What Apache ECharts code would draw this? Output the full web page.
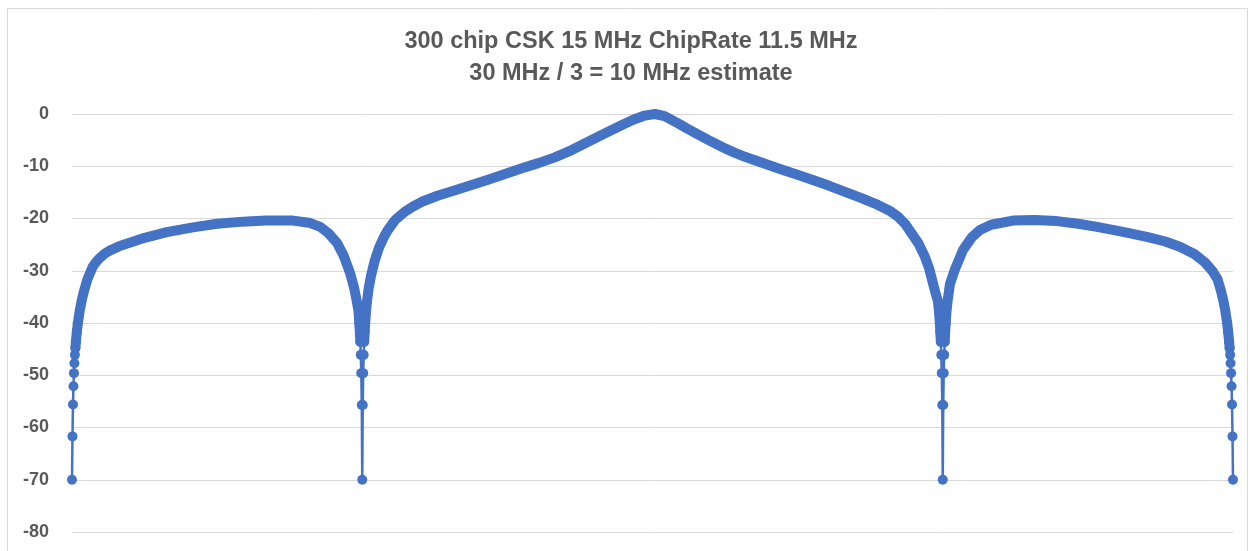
<!DOCTYPE html>
<html>
<head>
<meta charset="utf-8">
<script src="https://cdn.jsdelivr.net/npm/echarts@6/dist/echarts.min.js"></script>
<style>
  html, body { margin: 0; padding: 0; background: #ffffff; }
  #chart { width: 1252px; height: 551px; }
</style>
</head>
<body>
<div id="chart"></div>
<script>
// ---- data ----
const titleLines = ["300 chip CSK 15 MHz ChipRate 11.5 MHz", "30 MHz / 3 = 10 MHz estimate"];
const yMin = -80, yMax = 0, yStep = 10;
const sampleCount = 2400;

// [sample index, dB]
const leftSidelobe = [
  [0,-70],[1,-61.7],[2,-55.6],[3,-52.1],[4,-49.6],[5,-47.7],[6,-46.1],[7,-44.8],[8,-43.6],
  [10,-41.7],[12,-40.1],[16,-37.6],[20,-35.7],[25,-33.8],[32,-31.6],[43,-29.2],[50,-28.3],
  [58,-27.5],[68,-26.7],[79,-26.1],[100,-25.2],[127,-24.4],[150,-23.7],[196,-22.6],
  [250,-21.7],[300,-21.0],[353,-20.6],[400,-20.4],[457,-20.4],[490,-20.8],[513,-21.6],
  [530,-22.8],[548,-24.7],[562,-27.2],[575,-30.5],[583,-33.2],[588,-35.5],[592,-37.6],
  [593,-38.8],[594,-40.1],[595,-41.7],[596,-43.6],[597,-46.1],[598,-49.6],[599,-55.7],[600,-70]
];
const mainLobe = [
  [601,-55.7],[602,-49.6],[603,-46.1],[604,-43.6],[605,-41.7],[606,-40.1],[607,-38.8],
  [608,-37.6],[610,-35.7],[613,-33.5],[618,-31.0],[626,-28.0],[635,-25.5],[645,-23.5],
  [653,-22.2],[668,-20.3],[688,-18.7],[705,-17.7],[723,-16.8],[757,-15.6],[792,-14.6],
  [826,-13.6],[860,-12.6],[895,-11.5],[930,-10.4],[964,-9.4],[998,-8.3],[1033,-6.9],
  [1067,-5.3],[1102,-3.7],[1137,-2.1],[1160,-1.1],[1184,-0.3],[1205,0],[1225,-0.4],
  [1253,-1.8],[1270,-2.7],[1288,-3.6],[1316,-5.0],[1344,-6.3],[1367,-7.3],[1391,-8.2],
  [1425,-9.3],[1459,-10.4],[1495,-11.5],[1530,-12.6],[1564,-13.7],[1598,-14.9],
  [1632,-16.1],[1666,-17.4],[1690,-18.5],[1708,-19.7],[1722,-21.0],[1736,-22.9],
  [1750,-24.8],[1763,-27.3],[1772,-29.6],[1780,-32.5],[1786,-34.6],[1790,-35.8],
  [1792,-37.6],[1793,-38.8],[1794,-40.1],[1795,-41.7],[1796,-43.6],[1797,-46.1],
  [1798,-49.6],[1799,-55.7],[1800,-70]
];
const rightSidelobe = [
  [1801,-55.7],[1802,-49.6],[1803,-46.1],[1804,-43.6],[1805,-41.7],[1806,-40.1],
  [1807,-38.8],[1808,-37.6],[1810,-35.8],[1815,-32.5],[1825,-29.8],[1842,-26.0],
  [1860,-23.6],[1877,-22.2],[1900,-21.2],[1945,-20.4],[1990,-20.3],[2036,-20.5],
  [2080,-21.0],[2119,-21.6],[2170,-22.5],[2222,-23.5],[2260,-24.4],[2290,-25.4],
  [2320,-26.8],[2342,-28.4],[2357,-30.0],[2368,-31.6],[2375,-33.8],[2380,-35.7],
  [2384,-37.6],[2388,-40.1],[2390,-41.7],[2392,-43.6],[2393,-44.8],[2394,-46.1],
  [2395,-47.7],[2396,-49.6],[2397,-52.1],[2398,-55.6],[2399,-61.7],[2400,-70]
];

// ---- chart ----
const allPoints = leftSidelobe.concat(mainLobe, rightSidelobe);
const bandThreshold = -45;   // above: dense samples merge into a solid band
const dotThreshold = -40;    // below: individual sample markers are visible
const bandPoints = allPoints.map(p => p[1] >= bandThreshold ? p : [p[0], '-']);
const dotPoints = allPoints.map(p => p[1] < dotThreshold ? p : [p[0], '-']);

const blue = '#4472C4';
const textGray = '#595959';
const chart = echarts.init(document.getElementById('chart'), null, { renderer: 'canvas' });

chart.setOption({
  animation: false,
  backgroundColor: '#ffffff',
  title: {
    text: titleLines.join('\n'),
    left: 626,
    top: 21,
    textAlign: 'center',
    textStyle: {
      fontFamily: 'Liberation Sans, Arial, sans-serif',
      fontSize: 23.5,
      fontWeight: 'bold',
      color: textGray,
      lineHeight: 32
    }
  },
  graphic: [{
    type: 'rect',
    shape: { x: 7.5, y: 8.5, width: 1240, height: 560 },
    style: { fill: 'none', stroke: '#d9d9d9', lineWidth: 1 },
    silent: true
  }],
  grid: { left: 72, right: 19, top: 114, bottom: 19, containLabel: false },
  xAxis: {
    type: 'value',
    min: 0,
    max: sampleCount,
    show: false
  },
  yAxis: {
    type: 'value',
    min: yMin,
    max: yMax,
    interval: yStep,
    axisLine: { show: false },
    axisTick: { show: false },
    axisLabel: {
      margin: 23,
      fontFamily: 'Liberation Sans, Arial, sans-serif',
      fontSize: 18,
      fontWeight: 'bold',
      color: textGray
    },
    splitLine: { lineStyle: { color: '#d9d9d9', width: 1 } }
  },
  series: [
    {
      name: 'band',
      type: 'line',
      data: bandPoints,
      showSymbol: false,
      connectNulls: false,
      lineStyle: { color: blue, width: 10, cap: 'round', join: 'round' },
      z: 2
    },
    {
      name: 'points',
      type: 'line',
      data: dotPoints,
      connectNulls: false,
      symbol: 'circle',
      symbolSize: 10,
      showSymbol: true,
      showAllSymbol: true,
      itemStyle: { color: blue, borderWidth: 0 },
      lineStyle: { color: blue, width: 2.5 },
      z: 3
    }
  ]
});
</script>
</body>
</html>
